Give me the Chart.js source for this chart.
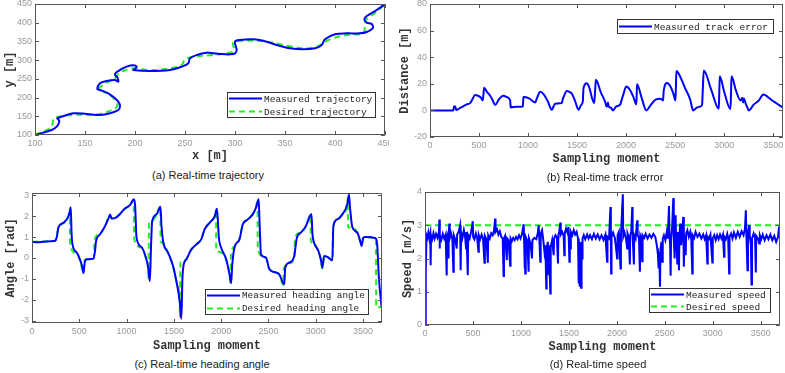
<!DOCTYPE html>
<html>
<head>
<meta charset="utf-8">
<script src="https://cdn.jsdelivr.net/npm/chart.js@4.4.0/dist/chart.umd.min.js"></script>
<style>
  html, body { margin: 0; padding: 0; background: #fff; }
  body { width: 785px; height: 373px; position: relative; overflow: hidden; }
  canvas { position: absolute; }
  .cap { position: absolute; width: 220px; text-align: center; font: 11px "Liberation Sans", Arial, sans-serif; color: #222; line-height: 14px; }
</style>
</head>
<body>
<canvas id="traj-chart" style="left:0;top:0" width="389" height="163"></canvas>
<canvas id="err-chart" style="left:390px;top:0" width="395" height="166"></canvas>
<canvas id="head-chart" style="left:0;top:185px" width="392" height="168"></canvas>
<canvas id="speed-chart" style="left:390px;top:185px" width="395" height="169"></canvas>
<div class="cap" style="left:98px;top:168px">(a) Real-time trajectory</div>
<div class="cap" style="left:495px;top:170px">(b) Real-time track error</div>
<div class="cap" style="left:92px;top:357px">(c) Real-time heading angle</div>
<div class="cap" style="left:488px;top:357px">(d) Real-time speed</div>
<script>
// tick positions
const trajTicks = [100, 150, 200, 250, 300, 350, 400, 450];
const sampleTicks = [0, 500, 1000, 1500, 2000, 2500, 3000, 3500];
const errTicks = [-20, 0, 20, 40, 60, 80];
const headTicks = [-3, -2, -1, 0, 1, 2, 3];
const speedTicks = [0, 1, 2, 3, 4];

// (a) trajectory, x / y in metres
const trajMeasX = [100, 116.7, 121.7, 124.3, 123.3, 122.3, 126.7, 138.3, 151.7, 165, 175, 183.3, 185, 183.3, 180, 173.3, 165, 162.3, 165, 171.7, 180, 183.3, 182.3, 180, 181, 185, 191.7, 198.3, 201.7, 200, 198.3, 215, 235, 246.7, 253.3, 255, 261.7, 271.7, 278.3, 285, 295, 300, 301.7, 300, 305, 318.3, 328.3, 341.7, 355, 368.3, 380, 386.7, 390, 400, 411.7, 425, 431.7, 437.7, 436.7, 431.7, 429.3, 431.7, 441.7, 450];
const trajMeasY = [100, 113.4, 122.3, 135.7, 141.9, 144.6, 149, 157.9, 156.1, 153.5, 157.9, 166.8, 177.5, 189.1, 198, 211.4, 220.3, 222, 238, 244.3, 247, 242.5, 254.1, 260.3, 266.6, 273.7, 282.6, 286.2, 282.6, 276.4, 273.7, 271, 273.7, 282.6, 291.5, 304.9, 313.8, 320, 318.2, 316.4, 315.5, 318.2, 327, 349.4, 353.8, 355.6, 352, 340.5, 331.6, 328.9, 331.6, 340.5, 355.6, 369, 371.6, 371.6, 375.2, 385, 396.6, 400.1, 409, 417.9, 434, 450];
const trajDesX = [100, 115, 117.7, 118.3, 123.3, 138.3, 165, 178.3, 182.3, 180, 175, 168.3, 163.3, 171.7, 179, 182.3, 188.3, 198.3, 215, 235, 246.7, 250, 258.3, 278.3, 295, 299, 298.3, 311.7, 331.7, 351.7, 368.3, 381.7, 395, 411.7, 428.3, 430, 431, 441.7, 450];
const trajDesY = [100, 117.9, 131.2, 141.9, 149, 153.5, 156.1, 168.6, 177.5, 193.5, 206.9, 215.8, 222, 239.9, 248.8, 260.3, 271, 278.1, 273.7, 278.1, 287, 302.2, 309.3, 313.8, 320, 327, 346.7, 352, 349.4, 338.7, 331.6, 336, 355.6, 367.2, 371.6, 389.4, 407.3, 429.5, 450];

// (b) track error
const errT = [0, 100, 200, 238, 245, 250, 258, 266, 272, 300, 323, 374, 409, 430, 460, 490, 520, 538, 545, 552, 580, 613, 640, 664, 700, 730, 750, 785, 817, 821, 824, 880, 947, 950, 953, 1010, 1072, 1095, 1124, 1160, 1200, 1243, 1260, 1277, 1345, 1352, 1362, 1396, 1420, 1447, 1480, 1515, 1540, 1559, 1562, 1566, 1600, 1620, 1675, 1683, 1692, 1740, 1788, 1800, 1805, 1815, 1822, 1845, 1866, 1900, 1941, 1955, 1968, 2002, 2043, 2075, 2104, 2108, 2111, 2160, 2206, 2250, 2298, 2349, 2377, 2380, 2384, 2418, 2452, 2480, 2503, 2508, 2513, 2537, 2600, 2656, 2673, 2683, 2720, 2758, 2775, 2783, 2792, 2870, 2945, 2950, 2955, 3000, 3064, 3070, 3075, 3120, 3167, 3184, 3194, 3201, 3220, 3235, 3252, 3303, 3354, 3375, 3398, 3420, 3439, 3480, 3540, 3600];
const errV = [0, 0, 0, 0, 3.2, 2.5, 3, 0.5, 0.3, 1.5, 2.5, 4.5, 5.5, 8, 11.5, 11, 9.5, 7.5, 12, 17, 14, 11, 7.5, 4, 8, 10.5, 11, 10, 7.5, 4, 2.2, 2.8, 3, 7, 10, 9, 6, 10, 14, 12, 7, 0.5, 3, 5, 5.5, 8, 10, 14.5, 14, 12.5, 7, 0.5, 4, 7, 12, 17, 20.5, 18, 5.5, 14, 23, 14, 6, 3, 3, 6, 3, 2, 0, 3, 4.5, 8, 11, 18, 15, 10, 4.5, 12, 19.6, 9, 0, 4, 8, 8.8, 7.5, 11, 15, 20.6, 18, 13, 7.5, 18, 29.6, 27.6, 17, 7.5, 2, 0, 2, 3, 4.5, 17, 30, 15, 1.2, 13, 25.6, 14, 1, 13, 25.6, 15, 7.5, 9.5, 6, 9, 5, 2.5, 0, 4.5, 7.5, 10, 12, 11.5, 10.5, 8, 5, 2];

// (c) heading angle, rad
const headT = [0, 60, 120, 200, 246, 262, 281, 333, 386, 404, 410, 418, 428, 474, 509, 530, 544, 552, 561, 579, 649, 665, 677, 719, 772, 810, 825, 842, 877, 930, 982, 1035, 1077, 1090, 1105, 1158, 1204, 1228, 1246, 1258, 1270, 1316, 1358, 1368, 1386, 1439, 1491, 1526, 1561, 1579, 1590, 1604, 1632, 1684, 1737, 1789, 1825, 1877, 1930, 1954, 1962, 1975, 2000, 2053, 2088, 2105, 2116, 2140, 2193, 2228, 2281, 2333, 2368, 2396, 2404, 2421, 2474, 2509, 2561, 2614, 2667, 2677, 2719, 2772, 2800, 2842, 2895, 2937, 2954, 2965, 2982, 3028, 3053, 3070, 3088, 3123, 3175, 3186, 3228, 3281, 3333, 3351, 3362, 3386, 3439, 3474, 3484, 3502, 3526, 3632, 3649, 3667, 3695];
const headMeas = [0.78, 0.75, 0.77, 0.8, 0.82, 1.0, 1.48, 1.68, 2.0, 2.3, 2.42, 1.2, 0.65, 0.25, -0.1, -0.4, -0.72, -0.4, -0.15, -0.06, -0.03, 0.3, 0.8, 1.13, 1.52, 1.9, 2.08, 1.88, 1.9, 2.1, 2.36, 2.52, 2.8, 2.5, 0.97, 0.52, 0.02, -0.46, -1.1, 0.5, 1.75, 2.08, 2.45, 1.6, 0.8, 0.25, -0.38, -1.1, -2.05, -2.9, -1.0, -0.3, -0.06, 0.41, 0.65, 0.89, 1.37, 1.68, 1.97, 2.35, 2.0, 1.0, 0.49, -0.06, -0.78, -1.2, -0.38, 0.49, 0.89, 1.6, 1.84, 2.08, 2.4, 2.8, 1.92, 0.17, 0.02, -0.54, -0.67, -0.78, -1.25, -0.46, -0.22, 0.1, 0.97, 1.21, 1.52, 2.0, 2.1, 1.13, 0.73, 0.33, -0.06, -0.46, 0.1, 0.05, -0.11, 1.52, 1.84, 2.08, 2.56, 3.03, 2.4, 1.48, 1.21, 0.73, 0.57, 0.97, 1.0, 0.94, 0.65, -0.94, -2.33];
const headDesT = [0, 246, 262, 281, 333, 386, 400, 402, 474, 509, 544, 548, 556, 579, 649, 658, 660, 719, 772, 825, 842, 877, 930, 982, 1035, 1075, 1080, 1158, 1204, 1228, 1233, 1236, 1263, 1316, 1356, 1360, 1386, 1439, 1491, 1526, 1561, 1565, 1568, 1604, 1632, 1684, 1737, 1789, 1825, 1877, 1930, 1945, 1948, 1975, 2053, 2088, 2100, 2103, 2140, 2193, 2228, 2281, 2333, 2368, 2384, 2387, 2430, 2474, 2509, 2561, 2614, 2658, 2661, 2719, 2776, 2779, 2842, 2895, 2937, 2944, 2947, 2982, 3028, 3053, 3070, 3088, 3123, 3178, 3181, 3228, 3281, 3333, 3338, 3341, 3386, 3439, 3474, 3484, 3502, 3526, 3632, 3636, 3639, 3690];
const headDes = [0.78, 0.82, 1.1, 1.45, 1.66, 1.98, 2.35, 0.65, 0.22, -0.12, -0.7, -0.7, -0.1, -0.06, -0.04, 0.2, 0.85, 1.15, 1.52, 2.05, 1.88, 1.9, 2.1, 2.35, 2.5, 2.75, 0.9, 0.5, 0.0, -0.5, -1.05, 1.6, 1.75, 2.05, 2.45, 0.8, 0.7, 0.22, -0.4, -1.1, -2.05, -2.8, -0.2, -0.2, -0.05, 0.4, 0.65, 0.9, 1.35, 1.68, 1.97, 2.2, 0.35, 0.3, -0.1, -0.8, -1.2, 0.1, 0.55, 0.9, 1.6, 1.84, 2.08, 2.4, 2.78, 0.5, 0.1, 0.0, -0.5, -0.65, -0.8, -1.3, -0.55, -0.25, 0.08, 0.95, 1.21, 1.52, 2.0, 2.05, 0.8, 0.7, 0.3, -0.08, -0.5, 0.05, 0.05, -0.12, 1.4, 1.84, 2.08, 2.5, 2.85, 1.45, 1.45, 1.2, 0.75, 0.6, 0.95, 1.0, 0.95, 0.92, -2.35, -2.35];

// (d) speed, m/s
const speedT = [0, 8, 15, 25, 35, 45, 55, 59, 63, 75, 88, 100, 115, 130, 145, 150, 152, 156, 170, 185, 200, 215, 226, 230, 240, 244, 248, 254, 258, 270, 285, 296, 300, 315, 331, 335, 350, 366, 370, 373, 377, 390, 405, 418, 428, 432, 446, 450, 465, 480, 498, 502, 515, 530, 545, 557, 561, 575, 590, 605, 620, 624, 640, 655, 659, 675, 690, 705, 720, 731, 735, 750, 765, 780, 795, 810, 819, 823, 835, 853, 857, 870, 888, 892, 905, 920, 935, 950, 965, 980, 995, 1010, 1028, 1032, 1038, 1042, 1045, 1050, 1065, 1080, 1084, 1100, 1115, 1120, 1140, 1160, 1175, 1184, 1190, 1202, 1206, 1220, 1235, 1245, 1255, 1264, 1268, 1280, 1289, 1293, 1306, 1310, 1325, 1341, 1345, 1360, 1375, 1386, 1390, 1400, 1411, 1415, 1430, 1445, 1452, 1456, 1470, 1485, 1495, 1505, 1509, 1515, 1520, 1535, 1550, 1565, 1580, 1595, 1602, 1607, 1613, 1620, 1627, 1632, 1637, 1642, 1655, 1670, 1690, 1705, 1720, 1740, 1760, 1780, 1800, 1820, 1840, 1860, 1880, 1898, 1902, 1918, 1933, 1937, 1940, 1944, 1960, 1980, 2003, 2007, 2020, 2038, 2042, 2062, 2066, 2080, 2095, 2107, 2111, 2125, 2135, 2139, 2150, 2160, 2164, 2177, 2181, 2195, 2212, 2216, 2230, 2240, 2244, 2255, 2264, 2268, 2285, 2300, 2320, 2340, 2360, 2380, 2400, 2410, 2421, 2428, 2435, 2442, 2449, 2455, 2465, 2473, 2478, 2490, 2505, 2520, 2530, 2543, 2548, 2555, 2560, 2565, 2575, 2588, 2593, 2602, 2607, 2612, 2617, 2625, 2630, 2636, 2642, 2647, 2652, 2660, 2665, 2670, 2680, 2692, 2696, 2699, 2704, 2717, 2722, 2735, 2750, 2765, 2775, 2786, 2790, 2805, 2820, 2840, 2860, 2880, 2900, 2915, 2930, 2943, 2947, 2960, 2975, 2995, 2999, 3015, 3030, 3045, 3060, 3075, 3090, 3105, 3117, 3121, 3135, 3150, 3160, 3170, 3174, 3190, 3205, 3220, 3240, 3260, 3280, 3300, 3320, 3335, 3344, 3349, 3361, 3366, 3379, 3384, 3397, 3403, 3408, 3425, 3440, 3448, 3452, 3470, 3483, 3490, 3505, 3520, 3540, 3560, 3580, 3600, 3620, 3640, 3660, 3680, 3690];
const speedMeas = [0.0, 1.6, 2.7, 2.62, 2.78, 2.6, 2.75, 1.8, 2.7, 2.58, 2.76, 2.6, 2.74, 2.62, 2.8, 3.17, 2.3, 2.7, 2.56, 2.74, 2.6, 2.72, 1.49, 2.65, 2.75, 2.0, 2.7, 3.05, 2.62, 2.76, 2.58, 1.6, 2.7, 2.58, 2.3, 2.72, 2.8, 3.0, 2.75, 1.65, 2.78, 2.62, 2.85, 2.65, 2.3, 2.8, 1.5, 2.7, 2.6, 2.8, 3.12, 2.65, 2.58, 2.75, 2.6, 2.2, 2.7, 2.58, 2.72, 2.6, 1.87, 2.68, 2.58, 1.87, 2.7, 2.6, 2.76, 2.7, 2.85, 3.2, 2.8, 2.88, 2.72, 2.82, 2.65, 2.6, 1.47, 2.6, 2.68, 1.95, 2.6, 2.55, 1.78, 2.6, 2.52, 2.62, 2.55, 2.65, 2.58, 2.7, 2.6, 2.72, 3.03, 2.65, 1.7, 2.6, 1.55, 2.65, 2.55, 1.6, 2.6, 2.45, 2.0, 2.55, 2.62, 2.58, 2.75, 3.0, 2.7, 1.9, 2.75, 2.85, 2.5, 2.2, 2.4, 1.1, 2.3, 2.5, 1.5, 2.4, 0.95, 2.35, 2.55, 2.1, 2.6, 2.7, 2.62, 1.85, 2.7, 2.82, 3.08, 2.72, 2.8, 2.68, 2.1, 2.75, 2.9, 2.78, 2.95, 1.9, 2.75, 2.3, 2.8, 2.7, 2.85, 2.72, 2.8, 2.6, 1.25, 2.5, 1.15, 2.4, 1.12, 2.5, 2.0, 2.6, 2.7, 2.58, 2.72, 2.6, 2.7, 2.58, 2.74, 2.6, 2.72, 2.58, 2.7, 2.56, 2.72, 1.9, 2.65, 2.6, 3.55, 2.7, 1.55, 2.65, 2.78, 2.6, 2.0, 2.7, 2.8, 1.7, 2.7, 3.93, 2.65, 2.78, 2.6, 2.3, 2.75, 2.62, 1.82, 2.7, 2.8, 3.55, 2.7, 1.82, 2.7, 2.6, 3.15, 2.72, 2.6, 1.6, 2.7, 2.62, 1.92, 2.7, 2.62, 2.74, 2.6, 2.72, 2.62, 2.74, 2.65, 2.5, 2.3, 2.1, 1.7, 2.2, 1.15, 2.3, 2.5, 1.9, 2.6, 2.7, 2.55, 2.8, 2.6, 3.58, 2.7, 2.4, 1.48, 2.6, 2.9, 3.82, 2.6, 2.0, 3.0, 3.3, 2.5, 2.2, 1.85, 2.8, 2.3, 1.65, 2.7, 3.05, 2.9, 2.4, 2.75, 3.25, 2.6, 1.75, 2.7, 2.1, 2.75, 2.85, 2.65, 2.8, 2.6, 1.55, 2.7, 2.62, 2.8, 2.65, 2.75, 2.6, 2.72, 2.58, 2.7, 1.85, 2.65, 2.6, 2.72, 1.88, 2.6, 2.7, 2.55, 2.7, 2.58, 2.72, 2.6, 2.72, 2.05, 2.65, 2.58, 2.74, 2.6, 1.55, 2.65, 2.75, 2.6, 2.78, 2.62, 2.8, 2.65, 2.82, 2.7, 2.9, 3.45, 2.8, 1.65, 2.75, 3.0, 2.7, 2.4, 1.22, 2.6, 2.75, 2.62, 1.58, 2.68, 2.6, 2.45, 2.7, 2.58, 2.72, 2.55, 2.7, 2.58, 2.72, 2.55, 2.68, 2.5, 2.65, 2.95];
const speedDesT = [0, 3700];
const speedDes = [3, 3];

const BLUE = '#0000ff';
const GREEN = '#22ee22';
const TICK_FONT = { family: 'Liberation Sans, Arial, sans-serif', size: 9 };
const TITLE_FONT = { family: 'Liberation Mono, monospace', size: 12, weight: 'bold' };

function pts(xs, ys) {
    return xs.map((x, i) => ({ x: x, y: ys[i] }));
}

// draws the axes box with inward tick marks, matlab style
const boxTicks = {
    id: 'boxTicks',
    afterDraw(chart) {
        const { ctx, chartArea: a, scales } = chart;
        ctx.save();
        ctx.strokeStyle = '#555';
        ctx.lineWidth = 1;
        ctx.beginPath();
        ctx.rect(a.left + 0.5, a.top + 0.5, a.width - 1, a.height - 1);
        scales.x.ticks.forEach(t => {
            const px = Math.round(scales.x.getPixelForValue(t.value)) + 0.5;
            ctx.moveTo(px, a.bottom); ctx.lineTo(px, a.bottom - 4);
            ctx.moveTo(px, a.top); ctx.lineTo(px, a.top + 4);
        });
        scales.y.ticks.forEach(t => {
            const py = Math.round(scales.y.getPixelForValue(t.value)) + 0.5;
            ctx.moveTo(a.left, py); ctx.lineTo(a.left + 4, py);
            ctx.moveTo(a.right, py); ctx.lineTo(a.right - 4, py);
        });
        ctx.stroke();
        ctx.restore();
    }
};

// legend box placed at a fixed spot inside the axes
const boxLegend = {
    id: 'boxLegend',
    afterDraw(chart, args, opts) {
        const ctx = chart.ctx;
        const sets = chart.data.datasets;
        ctx.save();
        ctx.fillStyle = '#fff';
        ctx.fillRect(opts.x, opts.y, opts.w, opts.h);
        ctx.strokeStyle = '#333';
        ctx.lineWidth = 1;
        ctx.strokeRect(opts.x + 0.5, opts.y + 0.5, opts.w, opts.h);
        const rowH = opts.h / sets.length;
        sets.forEach((ds, i) => {
            const cy = Math.round(opts.y + rowH * (i + 0.5)) + 0.5;
            ctx.strokeStyle = ds.borderColor;
            ctx.lineWidth = 2;
            ctx.setLineDash(ds.borderDash || []);
            ctx.beginPath();
            ctx.moveTo(opts.x + 2, cy);
            ctx.lineTo(opts.x + 35, cy);
            ctx.stroke();
            ctx.setLineDash([]);
            ctx.fillStyle = '#222';
            ctx.font = (opts.size || 9.5) + 'px "Liberation Mono", monospace';
            ctx.textBaseline = 'middle';
            ctx.fillText(ds.label, opts.x + 37, cy + 0.5);
        });
        ctx.restore();
    }
};

function setTicks(values) {
    return s => { s.ticks = values.map(v => ({ value: v })); };
}

function xAxis(min, max, tickValues, h, title) {
    return {
        type: 'linear', min: min, max: max,
        grid: { display: false, drawTicks: false },
        border: { display: false },
        ticks: { autoSkip: false, maxRotation: 0, padding: 3, color: '#999', font: TICK_FONT, callback: v => String(v) },
        afterBuildTicks: setTicks(tickValues),
        title: { display: true, text: title, color: '#333', font: TITLE_FONT, padding: { top: 0, bottom: 0 } },
        afterFit: s => { s.height = h; s.paddingLeft = 0; s.paddingRight = 0; }
    };
}

function yAxis(min, max, tickValues, w, title, titlePad) {
    return {
        type: 'linear', min: min, max: max,
        grid: { display: false, drawTicks: false },
        border: { display: false },
        ticks: { autoSkip: false, padding: 3, color: '#999', font: TICK_FONT, callback: v => String(v) },
        afterBuildTicks: setTicks(tickValues),
        title: { display: true, text: title, color: '#333', font: TITLE_FONT, padding: { top: titlePad, bottom: 0 } },
        afterFit: s => { s.width = w; s.paddingTop = 0; s.paddingBottom = 0; }
    };
}

function lineSet(label, data, color, dash, extra) {
    return Object.assign({
        label: label,
        data: data,
        showLine: true,
        borderColor: color,
        backgroundColor: color,
        borderWidth: 2,
        borderDash: dash,
        pointRadius: 0,
        fill: false
    }, extra || {});
}

function baseOptions(pad, scales, legendBox) {
    return {
        responsive: false,
        animation: false,
        layout: { padding: pad },
        scales: scales,
        plugins: { legend: { display: false }, tooltip: { enabled: false }, boxLegend: legendBox }
    };
}

new Chart(document.getElementById('traj-chart'), {
    type: 'scatter',
    data: {
        datasets: [
            lineSet('Measured trajectory', pts(trajMeasX, trajMeasY), BLUE, [], { tension: 0.35 }),
            lineSet('Desired trajectory', pts(trajDesX, trajDesY), GREEN, [6, 4], { tension: 0.35 })
        ]
    },
    options: baseOptions({ top: 4, right: 4, left: 0, bottom: 0 }, {
        x: xAxis(100, 450, trajTicks, 28, 'x [m]'),
        y: yAxis(100, 450, trajTicks, 35, 'y [m]', 3)
    }, { x: 227, y: 92, w: 148, h: 25, size: 9.5 }),
    plugins: [boxTicks, boxLegend]
});

new Chart(document.getElementById('err-chart'), {
    type: 'scatter',
    data: {
        datasets: [
            lineSet('Measured track error', pts(errT, errV), BLUE, [], { cubicInterpolationMode: 'monotone' })
        ]
    },
    options: baseOptions({ top: 4, right: 2, left: 0, bottom: 0 }, {
        x: xAxis(0, 3600, sampleTicks, 29, 'Sampling moment'),
        y: yAxis(-20, 80, errTicks, 40, 'Distance [m]', 8)
    }, { x: 227, y: 19, w: 156, h: 14, size: 9.5 }),
    plugins: [boxTicks, boxLegend]
});

new Chart(document.getElementById('head-chart'), {
    type: 'scatter',
    data: {
        datasets: [
            lineSet('Measured heading angle', pts(headT, headMeas), BLUE, [], { cubicInterpolationMode: 'monotone' }),
            lineSet('Desired heading angle', pts(headDesT, headDes), GREEN, [6, 4], { cubicInterpolationMode: 'monotone' })
        ]
    },
    options: baseOptions({ top: 8, right: 10, left: 0, bottom: 0 }, {
        x: xAxis(0, 3700, sampleTicks, 30, 'Sampling moment'),
        y: yAxis(-3.1, 3.1, headTicks, 32, 'Angle [rad]', 4)
    }, { x: 205, y: 104, w: 163, h: 25, size: 9.3 }),
    plugins: [boxTicks, boxLegend]
});

new Chart(document.getElementById('speed-chart'), {
    type: 'scatter',
    data: {
        datasets: [
            lineSet('Measured speed', pts(speedT, speedMeas), BLUE, [], { borderWidth: 2 }),
            lineSet('Desired speed', pts(speedDesT, speedDes), GREEN, [6, 4])
        ]
    },
    options: baseOptions({ top: 7, right: 5, left: 0, bottom: 0 }, {
        x: xAxis(0, 3700, sampleTicks, 29, 'Sampling moment'),
        y: yAxis(0, 4, speedTicks, 35, 'Speed [m/s]', 11)
    }, { x: 259, y: 103, w: 121, h: 24, size: 9.5 }),
    plugins: [boxTicks, boxLegend]
});
</script>
</body>
</html>
